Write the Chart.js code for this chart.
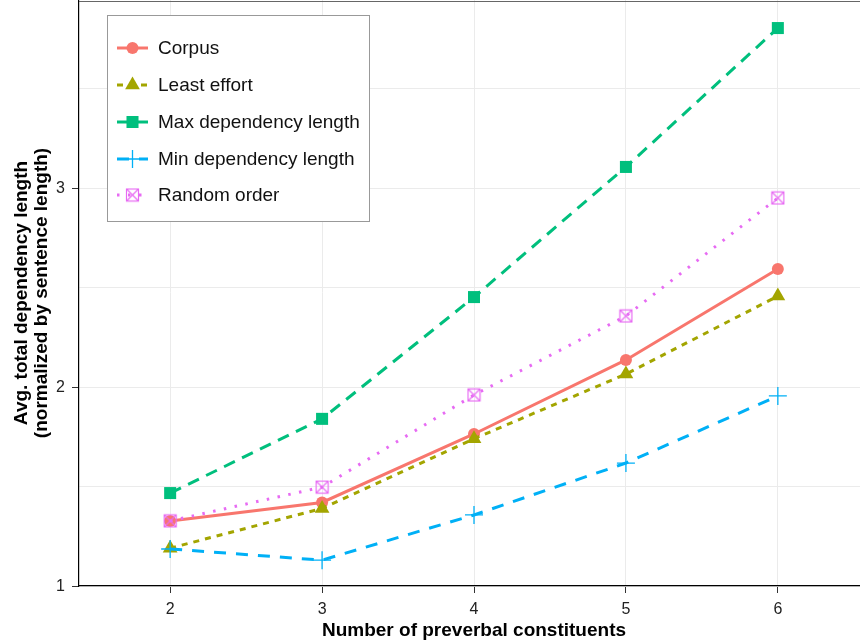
<!DOCTYPE html>
<html><head><meta charset="utf-8">
<script src="https://cdn.jsdelivr.net/npm/chart.js@4/dist/chart.umd.min.js"></script>
<style>html,body{margin:0;padding:0;background:#fff;overflow:hidden}#wrap{width:860px;height:642px;overflow:hidden;position:relative}canvas{display:block}</style>
</head><body><div id="wrap"><canvas id="c" width="869" height="642"></canvas></div>
<script>
const xValues = [2, 3, 4, 5, 6];
const seriesNames = ["Corpus", "Least effort", "Max dependency length", "Min dependency length", "Random order"];
const corpus = [1.327, 1.42, 1.764, 2.136, 2.593];
const leastEffort = [1.19, 1.39, 1.74, 2.065, 2.457];
const maxDep = [1.467, 1.84, 2.452, 3.106, 3.804];
const minDep = [1.186, 1.13, 1.357, 1.618, 1.955];
const randomOrder = [1.327, 1.497, 1.96, 2.357, 2.95];
const xTickValues = [2, 3, 4, 5, 6];
const xTickLabels = ["2", "3", "4", "5", "6"];
const yTickValues = [1, 1.5, 2, 2.5, 3, 3.5];
const yTickLabels = ["1", "", "2", "", "3", ""];

const FONT = "'Liberation Sans', Arial, sans-serif";

function squareCross(color) {
  const c = document.createElement('canvas');
  c.width = 15; c.height = 15;
  const g = c.getContext('2d');
  g.strokeStyle = color; g.lineWidth = 1.2;
  g.strokeRect(1.5, 1.5, 12, 12);
  g.beginPath();
  g.moveTo(1.5, 1.5); g.lineTo(13.5, 13.5);
  g.moveTo(13.5, 1.5); g.lineTo(1.5, 13.5);
  g.stroke();
  return c;
}
const rndImg = squareCross('#E76BF3');

function pts(arr) { return xValues.map((x, i) => ({ x: x, y: arr[i] })); }

const styles = [
  { color: '#F8766D', dash: [], pointStyle: 'circle', radius: 6, pbw: 0 },
  { color: '#A3A500', dash: [6, 6], pointStyle: 'triangle', radius: 8.5, pbw: 0 },
  { color: '#00BF7D', dash: [12, 8], pointStyle: 'rect', radius: 8.5, pbw: 0 },
  { color: '#00B0F6', dash: [12, 10], pointStyle: 'cross', radius: 9, pbw: 1.3 },
  { color: '#E76BF3', dash: [2.5, 8.5], pointStyle: rndImg, radius: 7, pbw: 0 }
];
const values = [corpus, leastEffort, maxDep, minDep, randomOrder];

const datasets = seriesNames.map((name, i) => ({
  label: name,
  data: pts(values[i]),
  order: seriesNames.length - i,
  borderColor: styles[i].color,
  backgroundColor: styles[i].color,
  borderWidth: 3,
  borderDash: styles[i].dash,
  borderCapStyle: 'butt',
  pointStyle: styles[i].pointStyle,
  pointRadius: styles[i].radius,
  pointBorderWidth: styles[i].pbw,
  pointBorderColor: styles[i].color,
  pointBackgroundColor: styles[i].color,
  tension: 0,
  clip: false
}));

const tickLabelPlugin = {
  id: 'tickLabels',
  afterDraw(chart) {
    const ctx = chart.ctx;
    const xs = chart.scales.x, ys = chart.scales.y;
    ctx.save();
    ctx.fillStyle = '#222';
    ctx.font = '16px ' + FONT;
    ctx.textBaseline = 'middle';
    ctx.textAlign = 'center';
    xTickValues.forEach((v, i) => {
      ctx.fillText(xTickLabels[i], xs.getPixelForValue(v), 610);
    });
    ctx.textAlign = 'right';
    yTickValues.forEach((v, i) => {
      if (yTickLabels[i]) ctx.fillText(yTickLabels[i], 65, ys.getPixelForValue(v) + 1);
    });
    ctx.restore();
  }
};

const legendPlugin = {
  id: 'insideLegend',
  afterDatasetsDraw(chart) {
    const ctx = chart.ctx;
    ctx.save();
    ctx.strokeStyle = '#666';
    ctx.lineWidth = 1;
    ctx.beginPath();
    ctx.moveTo(chart.chartArea.left, 1.5);
    ctx.lineTo(chart.chartArea.right, 1.5);
    ctx.stroke();
    const L = 107.5, T = 15.5, R = 369.5, B = 221.5;
    ctx.fillStyle = '#fff';
    ctx.fillRect(L, T, R - L, B - T);
    ctx.strokeStyle = '#999';
    ctx.strokeRect(L, T, R - L, B - T);
    const rows = [48, 85, 122, 159, 195];
    chart.data.datasets.forEach((ds, i) => {
      const y = rows[i];
      ctx.save();
      ctx.strokeStyle = ds.borderColor;
      ctx.lineWidth = 3;
      ctx.lineCap = 'butt';
      ctx.setLineDash(ds.borderDash);
      ctx.beginPath();
      ctx.moveTo(117, y); ctx.lineTo(148, y);
      ctx.stroke();
      ctx.restore();
      ctx.save();
      ctx.fillStyle = ds.pointBackgroundColor;
      ctx.strokeStyle = ds.pointBorderColor;
      ctx.lineWidth = ds.pointBorderWidth;
      Chart.helpers.drawPoint(ctx, { pointStyle: ds.pointStyle, radius: ds.pointRadius, borderWidth: ds.pointBorderWidth, rotation: 0 }, 132.5, y);
      ctx.restore();
      ctx.fillStyle = '#111';
      ctx.font = '19px ' + FONT;
      ctx.textBaseline = 'middle';
      ctx.textAlign = 'left';
      ctx.fillText(ds.label, 158, y + 1);
    });
    ctx.restore();
  }
};

function zeroPad(s) {
  s.paddingLeft = 0; s.paddingRight = 0; s.paddingTop = 0; s.paddingBottom = 0;
}

new Chart(document.getElementById('c'), {
  type: 'line',
  data: { datasets: datasets },
  plugins: [legendPlugin, tickLabelPlugin],
  options: {
    responsive: false,
    animation: false,
    layout: { padding: 0, autoPadding: false },
    plugins: { legend: { display: false }, tooltip: { enabled: false } },
    scales: {
      x: {
        type: 'linear',
        min: 1.4, max: 6.6,
        afterBuildTicks(s) { s.ticks = xTickValues.map(v => ({ value: v })); },
        afterFit(s) { s.height = 56; zeroPad(s); },
        grid: { color: '#ebebeb', lineWidth: 1, tickLength: 7, tickColor: '#333', drawTicks: true },
        border: { color: '#000', width: 1.2 },
        ticks: { display: false },
        title: { display: true, text: 'Number of preverbal constituents', color: '#000',
                 font: { size: 19, weight: 'bold', family: FONT }, padding: { top: 0, bottom: 0 } }
      },
      y: {
        type: 'linear',
        min: 1, max: 3.945,
        afterBuildTicks(s) { s.ticks = yTickValues.map(v => ({ value: v })); },
        afterFit(s) { s.width = 79; zeroPad(s); },
        grid: { color: '#ebebeb', lineWidth: 1, tickLength: 7,
                tickColor: c => (c.tick && Number.isInteger(c.tick.value)) ? '#333' : 'rgba(0,0,0,0)' },
        border: { color: '#000', width: 1.2 },
        ticks: { display: false },
        title: { display: true, text: ['Avg. total dependency length', '(normalized by sentence length)'], color: '#000',
                 font: { size: 19, weight: 'bold', family: FONT, lineHeight: 1.05 }, padding: { top: 12, bottom: 0 } }
      }
    }
  }
});
</script>
</body></html>
